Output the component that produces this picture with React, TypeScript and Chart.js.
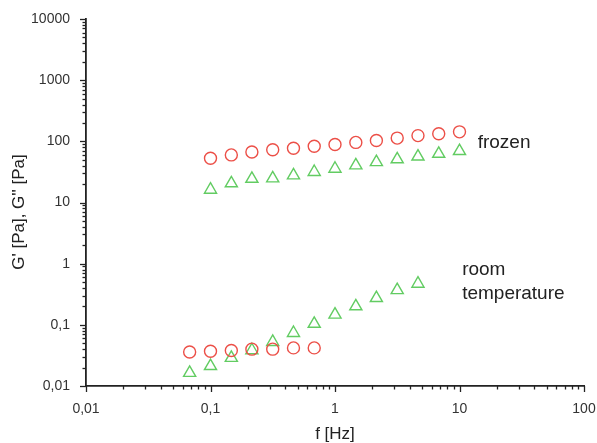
import React, { useEffect, useRef } from "react";
import { Chart, registerables } from "chart.js";

Chart.register(...registerables);

// ---- data ----
const frozenFreq = [0.1, 0.147, 0.215, 0.316, 0.464, 0.681, 1, 1.47, 2.15, 3.16, 4.64, 6.81, 10];
const frozenCircles = [53, 60, 67, 73, 77, 83, 89, 96, 103, 113, 124, 133, 143];
const frozenTriangles = [16.2, 20.6, 24.4, 24.8, 27.8, 31.5, 35.6, 40.4, 45.8, 50.8, 56.4, 62.6, 69.4];

const roomCircleFreq = [0.068, 0.1, 0.147, 0.215, 0.316, 0.464, 0.681];
const roomCircles = [0.036, 0.037, 0.038, 0.04, 0.04, 0.042, 0.042];
const roomTriangleFreq = [0.068, 0.1, 0.147, 0.215, 0.316, 0.464, 0.681, 1, 1.47, 2.15, 3.16, 4.64];
const roomTriangles = [0.0164, 0.0212, 0.0288, 0.0384, 0.0525, 0.0736, 0.104, 0.147, 0.201, 0.274, 0.37, 0.47];

const xTickValues = [0.01, 0.1, 1, 10, 100];
const xTickLabels = ["0,01", "0,1", "1", "10", "100"];
const yTickValues = [0.01, 0.1, 1, 10, 100, 1000, 10000];
const yTickLabels = ["0,01", "0,1", "1", "10", "100", "1000", "10000"];

const xTitle = "f [Hz]";
const yTitle = "G' [Pa], G'' [Pa]";
const frozenLabel = "frozen";
const roomLabel = ["room", "temperature"];

const RED = "#ec4f47";
const GREEN = "#62cc62";
const FONT = "'Liberation Sans', Arial, sans-serif";

function pts(xs: number[], ys: number[]) {
  return xs.map((x, i) => ({ x, y: ys[i] }));
}

function minorTicks(min: number, max: number) {
  const out: { v: number; major: boolean }[] = [];
  for (let e = Math.round(Math.log10(min)); e <= Math.round(Math.log10(max)); e++) {
    for (let m = 1; m <= 9; m++) {
      const v = m * Math.pow(10, e);
      if (v > max * 1.0001) break;
      out.push({ v, major: m === 1 });
    }
  }
  return out;
}

const decorPlugin = {
  id: "decor",
  afterDraw(chart: any) {
    const ctx = chart.ctx;
    const xs = chart.scales.x;
    const ys = chart.scales.y;
    const area = chart.chartArea;
    ctx.save();
    ctx.strokeStyle = "#222";
    ctx.lineWidth = 1.3;
    // x ticks
    for (const t of minorTicks(0.01, 100)) {
      const px = Math.round(xs.getPixelForValue(t.v)) + 0.5;
      ctx.beginPath();
      ctx.moveTo(px, area.bottom);
      ctx.lineTo(px, area.bottom + (t.major ? 6 : 3.5));
      ctx.stroke();
    }
    // y ticks
    for (const t of minorTicks(0.01, 10000)) {
      const py = Math.round(ys.getPixelForValue(t.v)) + 0.5;
      ctx.beginPath();
      ctx.moveTo(area.left, py);
      ctx.lineTo(area.left - (t.major ? 6 : 3.5), py);
      ctx.stroke();
    }
    // titles
    ctx.fillStyle = "#222";
    ctx.font = `17px ${FONT}`;
    ctx.textAlign = "center";
    ctx.textBaseline = "middle";
    ctx.fillText(xTitle, (area.left + area.right) / 2, 434);
    ctx.save();
    ctx.translate(19, 212);
    ctx.rotate(-Math.PI / 2);
    ctx.fillText(yTitle, 0, 0);
    ctx.restore();
    // annotations
    ctx.font = `19px ${FONT}`;
    ctx.textAlign = "left";
    ctx.textBaseline = "alphabetic";
    ctx.fillText(frozenLabel, xs.getPixelForValue(14), ys.getPixelForValue(96) + 6);
    const rx = xs.getPixelForValue(10.5);
    ctx.fillText(roomLabel[0], rx, 275);
    ctx.fillText(roomLabel[1], rx, 299);
    ctx.restore();
  },
};

export default function App() {
  const ref = useRef<HTMLCanvasElement>(null);
  useEffect(() => {
    document.body.style.margin = "0";
    const chart = new Chart(ref.current!, {
      type: "scatter",
      data: {
        datasets: [
          {
            label: "frozen G'",
            data: pts(frozenFreq, frozenCircles),
            pointStyle: "circle",
            pointRadius: 6,
            borderColor: RED,
            backgroundColor: "rgba(0,0,0,0)",
            borderWidth: 1.4,
          },
          {
            label: "frozen G''",
            data: pts(frozenFreq, frozenTriangles),
            pointStyle: "triangle",
            pointRadius: 7,
            borderColor: GREEN,
            backgroundColor: "rgba(0,0,0,0)",
            borderWidth: 1.4,
          },
          {
            label: "room G'",
            data: pts(roomCircleFreq, roomCircles),
            pointStyle: "circle",
            pointRadius: 6,
            borderColor: RED,
            backgroundColor: "rgba(0,0,0,0)",
            borderWidth: 1.4,
          },
          {
            label: "room G''",
            data: pts(roomTriangleFreq, roomTriangles),
            pointStyle: "triangle",
            pointRadius: 7,
            borderColor: GREEN,
            backgroundColor: "rgba(0,0,0,0)",
            borderWidth: 1.4,
          },
        ],
      },
      options: {
        animation: false,
        responsive: false,
        maintainAspectRatio: false,
        layout: { padding: { top: 19, right: 13, left: 0, bottom: 0 } },
        plugins: { legend: { display: false }, tooltip: { enabled: false } },
        scales: {
          x: {
            type: "logarithmic",
            min: 0.01,
            max: 100,
            afterBuildTicks: (s: any) => {
              s.ticks = xTickValues.map((v) => ({ value: v }));
            },
            afterFit: (s: any) => {
              s.height = 57;
              s.paddingLeft = 0;
              s.paddingRight = 0;
            },
            ticks: {
              autoSkip: false,
              maxRotation: 0,
              padding: 9,
              color: "#333",
              font: { family: FONT, size: 14 },
              callback: (v: any) => {
                const i = xTickValues.findIndex((t) => Math.abs(t - v) < t * 1e-6);
                return i >= 0 ? xTickLabels[i] : "";
              },
            },
            grid: { display: false, drawTicks: true, tickLength: 6 },
            border: { display: true, color: "#222", width: 1.8 },
          },
          y: {
            type: "logarithmic",
            min: 0.01,
            max: 10000,
            afterBuildTicks: (s: any) => {
              s.ticks = yTickValues.map((v) => ({ value: v }));
            },
            afterFit: (s: any) => {
              s.width = 86;
              s.paddingTop = 0;
              s.paddingBottom = 0;
            },
            ticks: {
              autoSkip: false,
              padding: 10,
              color: "#333",
              font: { family: FONT, size: 14 },
              callback: (v: any) => {
                const i = yTickValues.findIndex((t) => Math.abs(t - v) < t * 1e-6);
                return i >= 0 ? yTickLabels[i] : "";
              },
            },
            grid: { display: false, drawTicks: true, tickLength: 6 },
            border: { display: true, color: "#222", width: 1.8 },
          },
        },
      },
      plugins: [decorPlugin],
    });
    return () => chart.destroy();
  }, []);
  return (
    <div style={{ position: "absolute", left: 0, top: 0, width: 597, height: 443, background: "#fff" }}>
      <canvas ref={ref} width={597} height={443} style={{ width: 597, height: 443 }} />
    </div>
  );
}
